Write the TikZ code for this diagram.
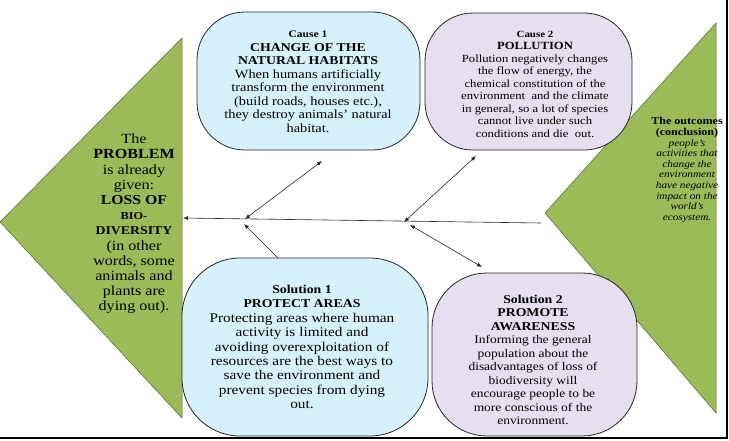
\documentclass[tikz,border=0pt]{standalone}
\usepackage{fontspec}
\setmainfont{Liberation Serif}[FakeStretch=1.15]
\usetikzlibrary{arrows.meta}
\definecolor{trigreen}{HTML}{9BBB59}
\definecolor{bblue}{HTML}{D5F2FC}
\definecolor{blav}{HTML}{E5DFF0}
\newcommand\myfs[2]{\fontsize{#1}{#2}\selectfont}
\begin{document}
\begin{tikzpicture}[x=1pt,y=-1pt,
  tri/.style={fill=trigreen, draw=trigreen!55!black, line width=0.5pt},
  bubble/.style={draw=black!85, line width=0.8pt, rounded corners=48pt, inner sep=0pt},
  txt/.style={align=center, inner sep=0pt, text=black},
  conn/.style={draw=black!85, line width=0.6pt},
  tip/.style={-{Latex[length=5pt,width=4pt]}},
  dtip/.style={{Latex[length=5pt,width=4pt]}-{Latex[length=5pt,width=4pt]}}]
\useasboundingbox (0,0) rectangle (729,440);
\fill[white] (0,0) rectangle (729,440);
% frame
\draw[black, line width=1.2pt] (0,438) -- (727,438) -- (727,0);
% triangles
\path[tri] (182,38) -- (0,222) -- (182,418) -- cycle;
\path[tri] (716,23) -- (545,213) -- (716,413) -- cycle;
% bubbles
\node[bubble, fill=bblue, minimum width=223pt, minimum height=138pt] (c1) at (308.5,81) {};
\node[bubble, fill=blav, minimum width=207pt, minimum height=137pt] (c2) at (528.5,81.5) {};
\node[bubble, fill=bblue, rounded corners=58pt, minimum width=246pt, minimum height=178pt] (s1) at (305,347) {};
\node[bubble, fill=blav, rounded corners=55pt, minimum width=205pt, minimum height=163pt] (s2) at (534.5,354.5) {};
% texts
\node[txt, font=\myfs{12.5}{13.5}] (c1t) at (308,82) {{\bfseries\myfs{10}{13.5}Cause 1}\\
{\bfseries\myfs{12}{13.5}CHANGE OF THE}\\
{\bfseries\myfs{12}{13.5}NATURAL HABITATS}\\
When humans artificially\\ transform the environment\\ (build roads, houses etc.),\\ they destroy animals' natural\\ habitat.};
\node[txt, font=\myfs{11}{12.5}] (c2t) at (535,84) {{\bfseries\myfs{9.5}{12.5}Cause 2}\\
{\bfseries\myfs{11}{12.5}POLLUTION}\\
Pollution negatively changes\\ the flow of energy, the\\ chemical constitution of the\\ environment\ \ and the climate\\ in general, so a lot of species\\ cannot live under such\\ conditions and die\ \ out.};
\node[txt, font=\myfs{13.3}{14.4}] (s1t) at (302,347) {{\bfseries\myfs{12}{14.4}Solution 1}\\
{\bfseries\myfs{12}{14.4}PROTECT AREAS}\\
Protecting areas where human\\ activity is limited and\\ avoiding overexploitation of\\ resources are the best ways to\\ save the environment and\\ prevent species from dying\\ out.};
\node[txt, font=\myfs{11.7}{13.5}] (s2t) at (533,360) {{\bfseries\myfs{12}{13.5}Solution 2}\\
{\bfseries\myfs{12}{13.5}PROMOTE}\\
{\bfseries\myfs{12}{13.5}AWARENESS}\\
Informing the general\\ population about the\\ disadvantages of loss of\\ biodiversity will\\ encourage people to be\\ more conscious of the\\ environment.};
\node[txt, font=\myfs{14}{15.2}] (pt) at (134,224) {The\\
{\bfseries PROBLEM}\\
is already\\ given:\\
{\bfseries\myfs{13.7}{15.2}LOSS OF}\\
{\bfseries\myfs{10.7}{15.2}BIO-}\\
{\bfseries\myfs{12}{15.2}DIVERSITY}\\
(in other\\ words, some\\ animals and\\ plants are\\ dying out).};
\node[txt, font=\myfs{9.8}{10.6}] (ot) at (687,170) {{\bfseries\myfs{10.5}{12}The outcomes}\\
{\bfseries\myfs{10.5}{12}(conclusion)}\\
\itshape people's\\ \itshape activities that\\ \itshape change the\\ \itshape environment\\ \itshape have negative\\ \itshape impact on the\\ \itshape world's\\ \itshape ecosystem.};
% connectors
\coordinate (axR) at (541,223);
\coordinate (axL) at (183,218);
\coordinate (j1) at (245,219);
\coordinate (j1b) at (244,224);
\coordinate (j2) at (404,222);
\coordinate (j2b) at (410,225);
\coordinate (e1) at (322,161);
\coordinate (e2) at (476,156);
\coordinate (e3) at (482,267);
\coordinate (b1) at (278,258);
\draw[conn, tip] (axR) -- (axL);
\draw[conn, dtip] (j1) -- (e1);
\draw[conn, tip] (b1) -- (j1b);
\draw[conn, dtip] (j2) -- (e2);
\draw[conn, dtip] (j2b) -- (e3);
\end{tikzpicture}
\end{document}
